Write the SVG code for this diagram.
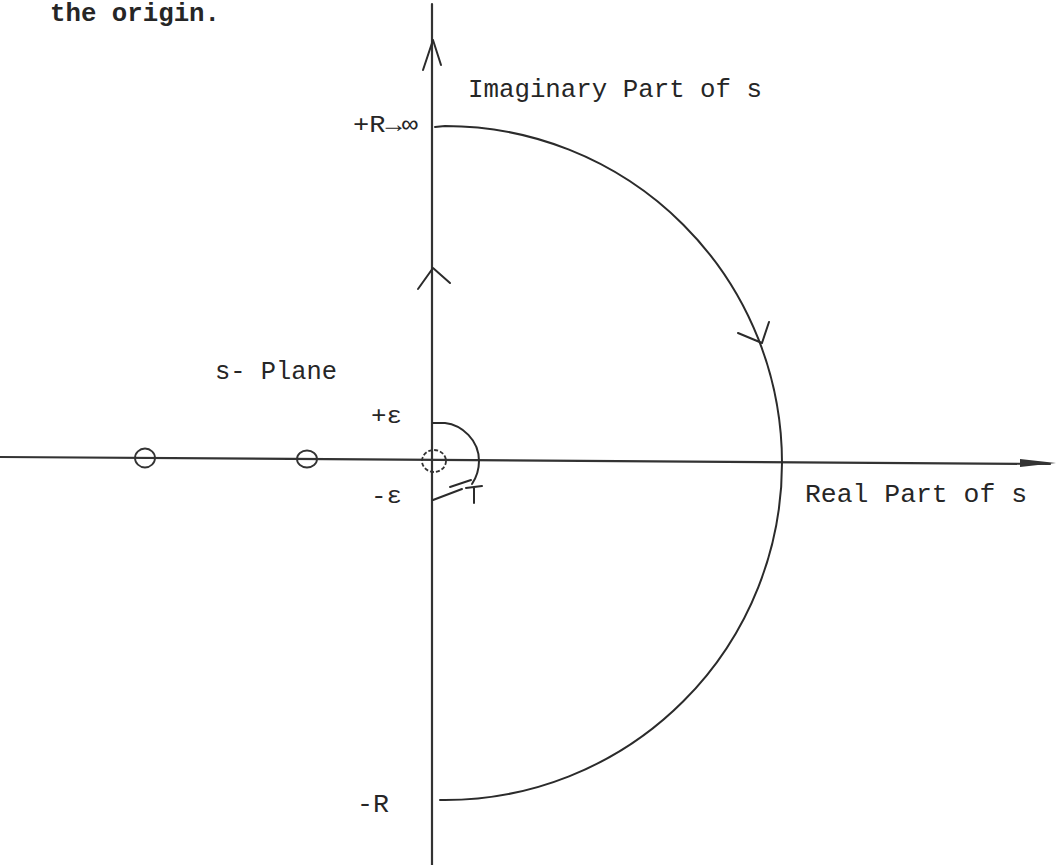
<svg xmlns="http://www.w3.org/2000/svg" width="1056" height="865" viewBox="0 0 1056 865">
<style>
.t{font-family:"Liberation Mono","DejaVu Sans Mono",monospace;fill:#262626}
.ax{stroke:#333;stroke-width:2.2;fill:none;stroke-linecap:round}
.ln{stroke:#2b2b2b;stroke-width:2;fill:none;stroke-linecap:round;stroke-linejoin:round}
.pz{stroke:#333;stroke-width:1.8;fill:none}
</style>
<rect width="1056" height="865" fill="#fff"/>
<text class="t" x="50" y="21" font-size="26" font-weight="bold" textLength="170" lengthAdjust="spacingAndGlyphs">the origin.</text>
<g id="connectors">
  <g id="imag-axis">
    <line class="ax" x1="432" y1="4" x2="432" y2="865" stroke-width="2.6"/>
    <path class="ln" d="M423,70 L433,40 L441,65" stroke-width="2.4"/>
  </g>
  <g id="real-axis">
    <line class="ax" x1="0" y1="457" x2="1050" y2="464"/>
    <path d="M1020,459 L1056,463 L1020,467 Z" fill="#333"/>
  </g>
  <g id="up-arrow">
    <path class="ln" d="M418,289 L433,268 L450,283" stroke-width="2.4"/>
  </g>
  <g id="big-contour">
    <path class="ln" d="M435,127 L445,126 A337,337 0 0 1 445,800 L440,800"/>
    <path class="ln" d="M738,333 L762,343 L769,322" stroke-width="2.2"/>
  </g>
  <g id="small-indent">
    <path class="ln" d="M433,423 L445,423 C462,425 479,440 479,461 C479,470 476,478 472,484" stroke-width="1.8"/>
    <path class="ln" d="M462,489 L433,500" stroke-width="1.2" stroke="#555"/>
    <path class="ln" d="M450,487 L471,480" stroke-width="3"/>
    <path class="ln" d="M466,488 L482,486 M474,487 L474,503" stroke-width="1.6"/>
  </g>
</g>
<g id="pole1"><ellipse class="pz" cx="145" cy="458" rx="10" ry="9.5"/></g>
<g id="pole2"><ellipse class="pz" cx="307" cy="459" rx="10" ry="8.5"/></g>
<g id="pole-origin"><ellipse class="pz" cx="434" cy="461" rx="12" ry="11" stroke-dasharray="4 2" stroke="#666"/></g>
<g id="labels">
  <text class="t" x="468" y="97" font-size="25" textLength="294" lengthAdjust="spacingAndGlyphs">Imaginary Part of s</text>
  <text class="t" x="805" y="502" font-size="26" textLength="222" lengthAdjust="spacingAndGlyphs">Real Part of s</text>
  <text class="t" x="215" y="379" font-size="25" textLength="122" lengthAdjust="spacingAndGlyphs">s- Plane</text>
  <text class="t" x="353" y="132" font-size="24" textLength="65" lengthAdjust="spacingAndGlyphs">+R→∞</text>
  <text class="t" x="371" y="423" font-size="24" textLength="31" lengthAdjust="spacingAndGlyphs">+ε</text>
  <text class="t" x="371" y="503" font-size="24" textLength="31" lengthAdjust="spacingAndGlyphs">-ε</text>
  <text class="t" x="357" y="812" font-size="26" textLength="32" lengthAdjust="spacingAndGlyphs">-R</text>
</g>
</svg>
